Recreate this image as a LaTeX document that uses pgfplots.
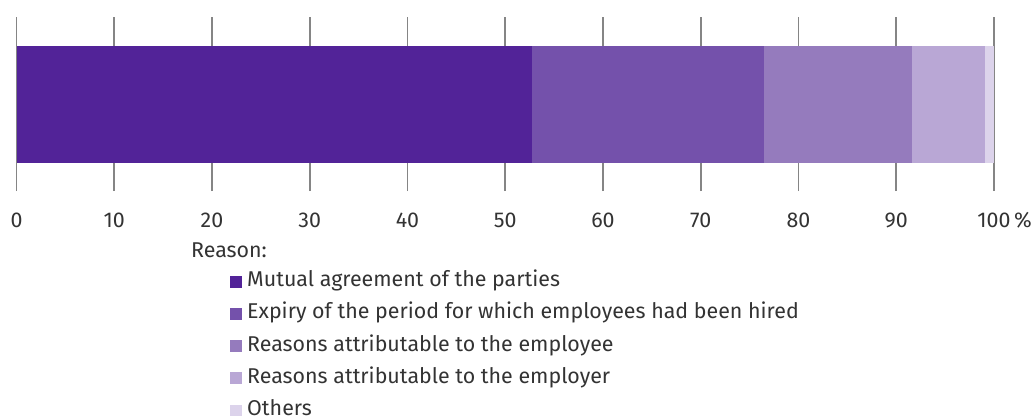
\documentclass[border=0pt]{standalone}
\usepackage{fontspec}
\setmainfont{Fira Sans}
\usepackage{pgfplots}
\pgfplotsset{compat=1.18}
\definecolor{c1}{HTML}{522398}
\definecolor{c2}{HTML}{7451AB}
\definecolor{c3}{HTML}{957BBD}
\definecolor{c4}{HTML}{B9A7D5}
\definecolor{c5}{HTML}{DCD3EB}
\definecolor{txt}{HTML}{333333}
\definecolor{gridc}{HTML}{858585}
\begin{document}
\fontsize{21.4bp}{25bp}\selectfont
\begin{tikzpicture}
\begin{axis}[
  at={(16.5bp,-17bp)}, anchor=north west,
  scale only axis, width=977.5bp, height=174bp,
  xbar stacked, bar width=117bp,
  xmin=0, xmax=100, ymin=-1, ymax=1,
  axis line style={draw=none},
  xtick={0,10,...,100},
  xticklabels={0,10,20,30,40,50,60,70,80,90,100\rlap{\,\%}},
  major tick length=0pt,
  xmajorgrids, grid style={gridc, line width=1.6bp},
  ytick=\empty,
  /pgf/number format/assume math mode=true,
  xticklabel style={font=\fontsize{21.4bp}{25bp}\selectfont, text=txt, anchor=base, inner sep=0pt, yshift=-36bp},
  legend cell align=left,
  legend style={draw=none, fill=none, at={(0.2184,-0.462)}, anchor=north west, inner sep=0pt,
    font=\fontsize{21.4bp}{25bp}\selectfont, text=txt,
    nodes={inner ysep=0pt, inner xsep=5bp, text height=15bp, text depth=5bp},
    row sep=12.25bp},
  legend image code/.code={\path[#1, draw=none] (0bp,-6bp) rectangle (12bp,6bp);},
  clip=false,
]
\addplot[fill=c1, draw=none] coordinates {(52.7,0)};
\addplot[fill=c2, draw=none] coordinates {(23.8,0)};
\addplot[fill=c3, draw=none] coordinates {(15.1,0)};
\addplot[fill=c4, draw=none] coordinates {(7.5,0)};
\addplot[fill=c5, draw=none] coordinates {(0.9,0)};
\legend{Mutual agreement of the parties,
  Expiry of the period for which employees had been hired,
  Reasons attributable to the employee,
  Reasons attributable to the employer,
  Others}
\end{axis}
\node[anchor=base west, inner sep=0pt, text=txt, font=\fontsize{21.4bp}{25bp}\selectfont] at (191bp,-257.7bp) {Reason:};
\pgfresetboundingbox
\path[use as bounding box] (0,0) rectangle (1033bp,-416bp);
\end{tikzpicture}
\end{document}
